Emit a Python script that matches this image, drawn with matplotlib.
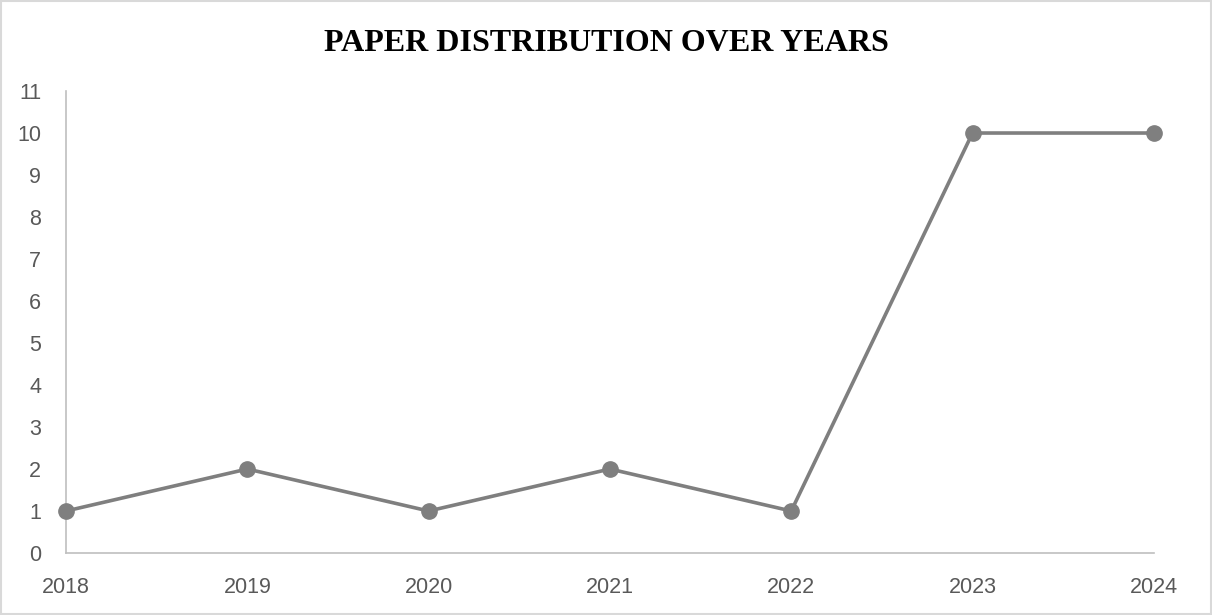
import matplotlib
matplotlib.use("Agg")
import matplotlib.pyplot as plt
from matplotlib.patches import Rectangle

years = [2018, 2019, 2020, 2021, 2022, 2023, 2024]
papers = [1, 2, 1, 2, 1, 10, 10]
y_ticks = list(range(0, 12))

fig = plt.figure(figsize=(12.12, 6.15), dpi=100)
ax = fig.add_axes([0.0545, 0.1008, 0.8975, 0.7512])

ax.plot(years, papers, color="#7f7f7f", linewidth=2.6, marker="o",
        markersize=11, clip_on=False, zorder=3)

ax.set_xlim(years[0], years[-1])
ax.set_ylim(0, 11)
ax.set_xticks(years)
ax.set_yticks(y_ticks)
ax.tick_params(length=0, labelsize=15.5, labelcolor="#595959")
ax.tick_params(axis="x", pad=17)
ax.tick_params(axis="y", pad=18)
for lbl in ax.get_xticklabels() + ax.get_yticklabels():
    lbl.set_family("Liberation Sans")

for side in ["top", "right"]:
    ax.spines[side].set_visible(False)
for side in ["left", "bottom"]:
    ax.spines[side].set_color("#bfbfbf")
    ax.spines[side].set_linewidth(1.2)

fig.text(0.5, 0.93, "PAPER DISTRIBUTION OVER YEARS", ha="center", va="center",
         family="Liberation Serif", fontweight="bold", fontsize=23, color="black")

# thin frame around the whole chart
fig.patches.append(Rectangle((0.001, 0.002), 0.998, 0.996, transform=fig.transFigure,
                             fill=False, edgecolor="#d9d9d9", linewidth=1.5))

fig.savefig("out.png", dpi=100)
